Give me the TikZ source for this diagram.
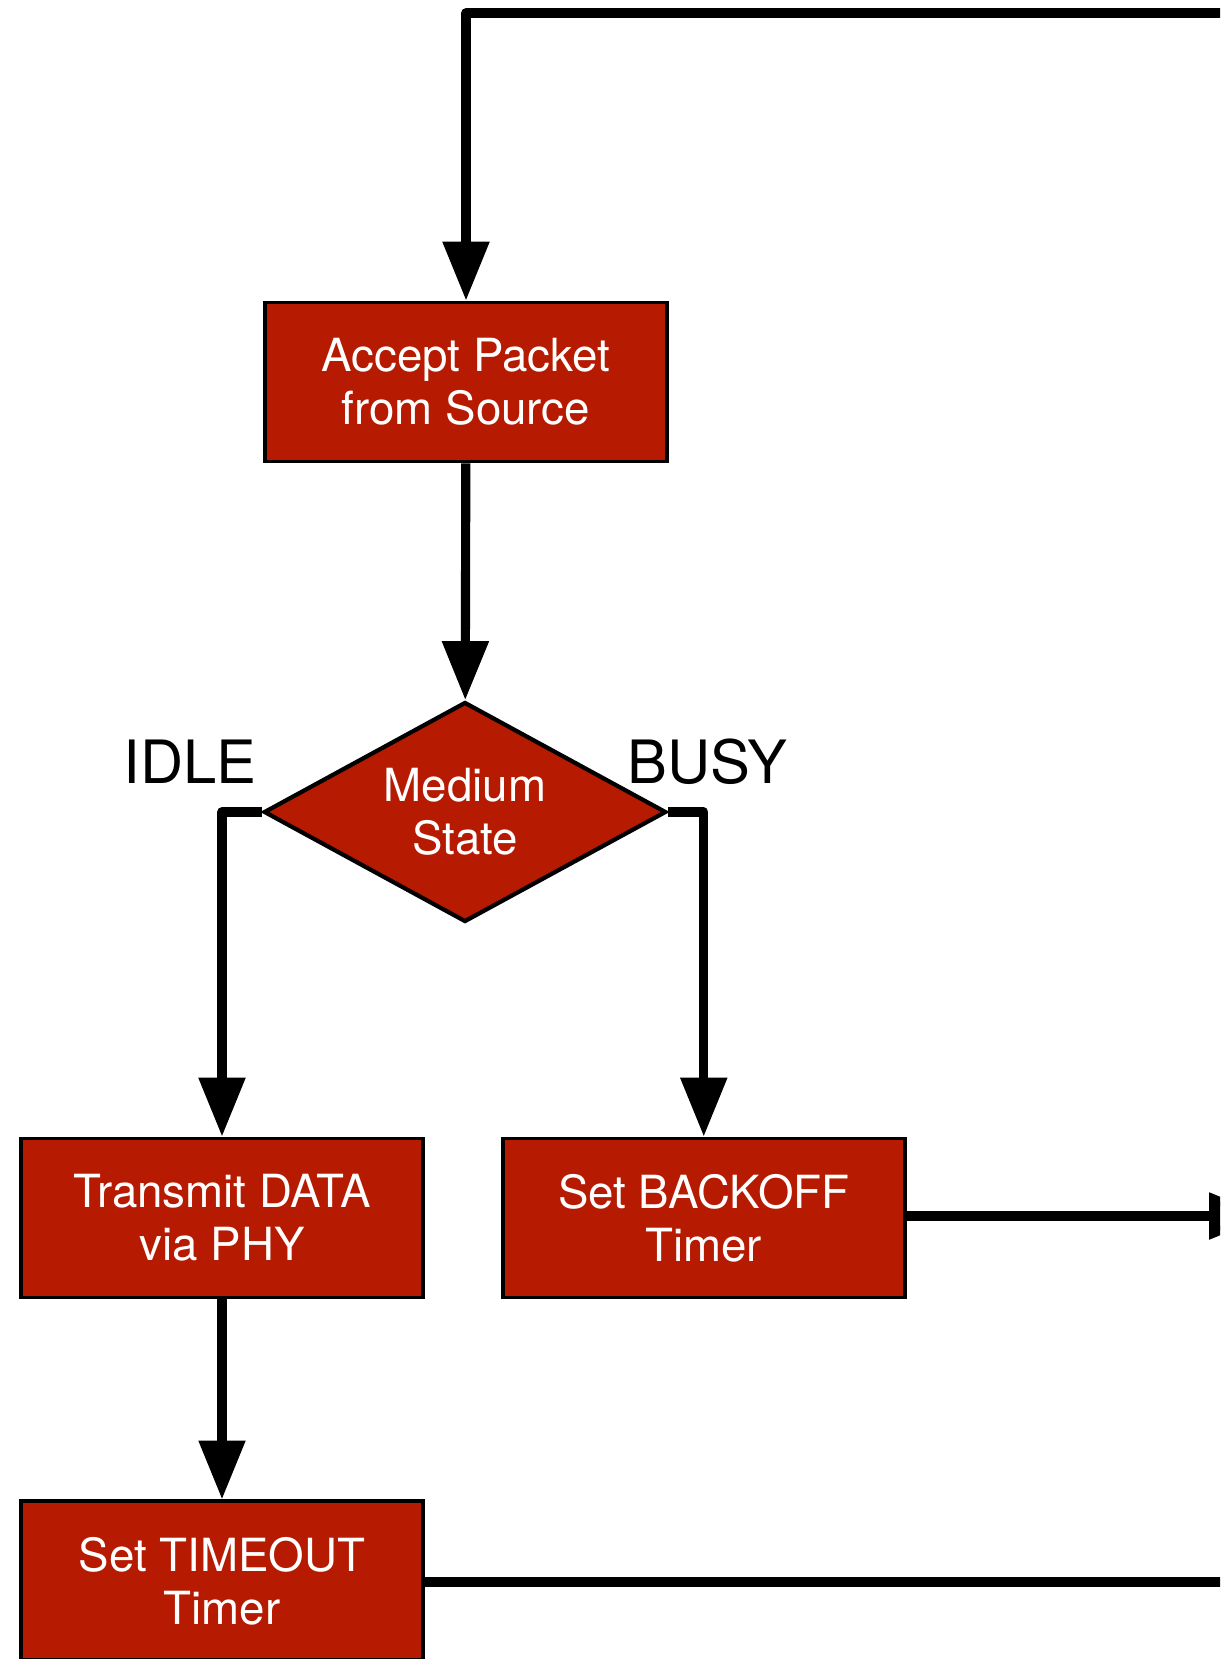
\documentclass[tikz,border=0pt]{standalone}
\usepackage{fontspec}
\setmainfont{TeX Gyre Heros}
\usepackage{tikz}
\usetikzlibrary{positioning}
\usetikzlibrary{shapes.geometric}
\usetikzlibrary{arrows.meta}
\definecolor{boxred}{RGB}{182,26,0}

\begin{document}
\begin{tikzpicture}[x=0.02cm, y=-0.02cm,
        box/.style={draw=black, line width=2.2pt, fill=boxred, text=white, align=center,
            minimum width=8.04cm, minimum height=3.18cm, font=\fontsize{26}{30.2}\selectfont},
        decision/.style={diamond, draw=black, line width=2.4pt, fill=boxred, text=white, align=center,
            inner sep=0pt, shape aspect=1.8, minimum width=8.05cm, minimum height=4.4cm,
            font=\fontsize{26}{30.2}\selectfont},
        flow/.style={line width=5.2pt, line join=round, -{Triangle[length=33.5pt, width=25.5pt]}},
        link/.style={line width=5.2pt, line join=round},
        state/.style={font=\fontsize{34}{36}\selectfont}]
        \clip (0, 0) rectangle (1220, 1659);
        \node(accept) [box] at (466, 382) {Accept Packet\\from Source};
        \node(medium) [decision] at (465, 812) {Medium\\State};
        \node(transmit) [box] at (222, 1218) {Transmit DATA\\via PHY};
        \node(backoff) [box, right=1.52cm of transmit] {Set BACKOFF\\Timer};
        \node(timeout) [box, below=4.0cm of transmit] {Set TIMEOUT\\Timer};
        \node(idle) [state] at (190, 762) {IDLE};
        \node(busy) [state] at (707, 762) {BUSY};
        \coordinate(loopin) at (1240, 13);
        \coordinate(backoffout) at (1268, 1216);
        \coordinate(timeoutout) at (1240, 1582);
        \draw[flow] (loopin) -| (accept);
        \draw[flow] (accept) -- (medium);
        \draw[flow] (medium.west) -| (transmit);
        \draw[flow] (medium.east) -| (backoff);
        \draw[flow] (backoff.east |- backoffout) -- (backoffout);
        \draw[flow] (transmit) -- (timeout);
        \draw[link] (timeout.east |- timeoutout) -- (timeoutout);
    \end{tikzpicture}
\end{document}
